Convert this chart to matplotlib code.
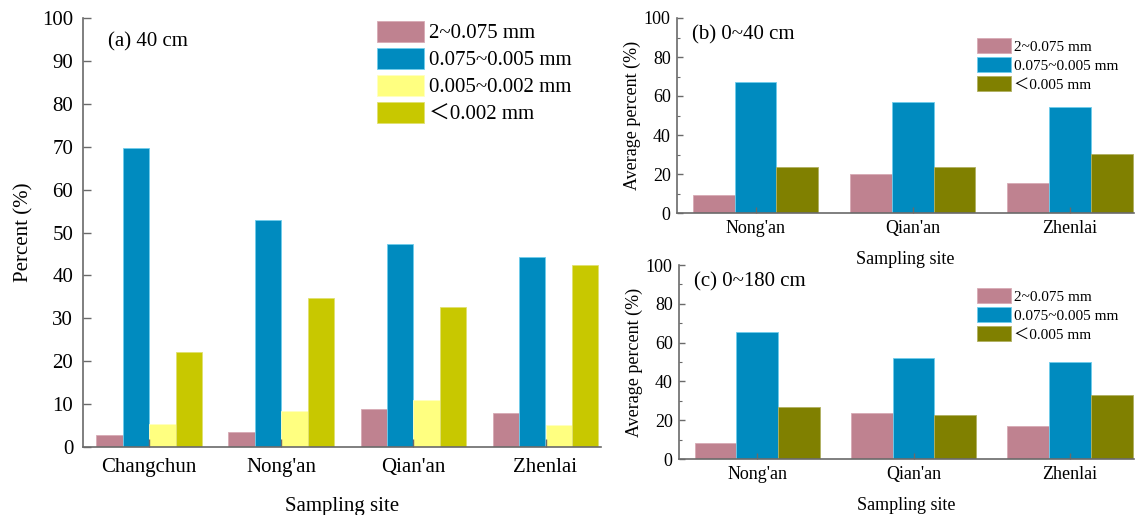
import matplotlib
matplotlib.use("Agg")
import matplotlib.pyplot as plt
import numpy as np
from matplotlib.ticker import MultipleLocator

plt.rcParams['font.family'] = ['Liberation Serif', 'Noto Sans CJK SC', 'DejaVu Sans']
plt.rcParams['mathtext.fontset'] = 'stix'

# ---- data ----
sites_a = ["Changchun", "Nong'an", "Qian'an", "Zhenlai"]
labels_a = ["2~0.075 mm", "0.075~0.005 mm", "0.005~0.002 mm", "＜0.002 mm"]
coarse_a = [2.8, 3.6, 8.8, 8.0]
silt_a = [69.7, 53.0, 47.4, 44.3]
fine_silt_a = [5.3, 8.5, 11.0, 5.2]
clay_a = [22.1, 34.8, 32.7, 42.4]

sites_bc = ["Nong'an", "Qian'an", "Zhenlai"]
labels_bc = ["2~0.075 mm", "0.075~0.005 mm", "＜0.005 mm"]
coarse_b = [9.3, 20.0, 15.4]
silt_b = [67.3, 57.0, 54.3]
clay_b = [23.5, 23.7, 30.3]
coarse_c = [8.0, 23.8, 16.8]
silt_c = [65.5, 52.0, 50.2]
clay_c = [26.7, 22.8, 32.8]

c_pink = "#bf8290"
c_blue = "#008bbf"
c_lyellow = "#ffff80"
c_olive_y = "#c8c800"
c_olive = "#808000"
edge_pink = "#d7aab4"
edge_blue = "#6fcdec"
edge_ly = "#ffffc0"
edge_oy = "#e0e070"
edge_ol = "#b0b060"
spine_c = "#6a6a6a"

W, H = 1145, 515
fig = plt.figure(figsize=(W / 100, H / 100), dpi=100)


def px_axes(x0, y0, x1, y1):
    ax = fig.add_axes([x0 / W, 1 - y1 / H, (x1 - x0) / W, (y1 - y0) / H])
    ax.set_facecolor("none")
    return ax


def style(ax, fs, major_len, ypad, minor=None):
    for s in ("top", "right"):
        ax.spines[s].set_visible(False)
    for s in ("left", "bottom"):
        ax.spines[s].set_color(spine_c)
        ax.spines[s].set_linewidth(1.2)
    ax.tick_params(axis="y", direction="in", length=major_len, width=1.0,
                   color=spine_c, labelsize=fs, pad=ypad)
    ax.tick_params(axis="x", direction="in", length=major_len, width=1.0,
                   color=spine_c, labelsize=fs, pad=ypad)
    if minor is not None:
        ax.yaxis.set_minor_locator(MultipleLocator(minor))
        ax.tick_params(axis="y", which="minor", direction="in", length=2.5,
                       width=0.8, color=spine_c)


# ---- panel (a) ----
ax = px_axes(83, 18, 601, 447)
x = np.arange(len(sites_a))
w = 0.2
series = [(coarse_a, c_pink, edge_pink), (silt_a, c_blue, edge_blue),
          (fine_silt_a, c_lyellow, edge_ly), (clay_a, c_olive_y, edge_oy)]
for i, ((vals, col, ec), lab) in enumerate(zip(series, labels_a)):
    ax.bar(x + (i - 1.5) * w, vals, w, color=col, edgecolor=ec,
           linewidth=0.6, label=lab)
ax.set_xlim(-0.5, 3.42)
ax.set_ylim(0, 100)
ax.set_yticks(np.arange(0, 101, 10))
ax.set_xticks(x)
ax.set_xticklabels(sites_a)
style(ax, 15, 6, 7)
ax.tick_params(axis="x", pad=8)
ax.set_ylabel("Percent (%)", fontsize=15, labelpad=6)
ax.set_xlabel("Sampling site", fontsize=15, labelpad=14)
ax.text(0.048, 0.944, "(a) 40 cm", transform=ax.transAxes, fontsize=15,
        va="center", ha="left")
leg_x = (377 - 83) / 518
leg_y = (447 - 21) / 429
ax.legend(loc="upper left", bbox_to_anchor=(leg_x, leg_y), frameon=False,
          fontsize=15, borderpad=0, borderaxespad=0, handlelength=2.25,
          handleheight=1.15, labelspacing=0.22, handletextpad=0.25)


# ---- panels (b) and (c) ----
def panel_bc(box, coarse, silt, clay, tag, leg_top):
    x0, y0, x1, y1 = box
    ax = px_axes(x0, y0, x1, y1)
    xs = np.arange(len(sites_bc))
    wb = 0.267
    ser = [(coarse, c_pink, edge_pink), (silt, c_blue, edge_blue),
           (clay, c_olive, edge_ol)]
    for i, ((vals, col, ec), lab) in enumerate(zip(ser, labels_bc)):
        ax.bar(xs + (i - 1) * wb, vals, wb, color=col, edgecolor=ec,
               linewidth=0.6, label=lab)
    ax.set_xlim(-0.5, 2.41)
    ax.set_ylim(0, 100)
    ax.set_yticks(np.arange(0, 101, 20))
    ax.set_xticks(xs)
    ax.set_xticklabels(sites_bc)
    style(ax, 13, 4, 4.5, minor=10)
    ax.tick_params(axis="x", pad=5)
    ax.set_ylabel("Average percent (%)", fontsize=13, labelpad=2)
    ax.set_xlabel("Sampling site", fontsize=13, labelpad=10)
    ax.text(0.033, 0.915, tag, transform=ax.transAxes, fontsize=15,
            va="center", ha="left")
    lx = (977 - x0) / (x1 - x0)
    ly = (y1 - leg_top) / (y1 - y0)
    ax.legend(loc="upper left", bbox_to_anchor=(lx, ly), frameon=False,
              fontsize=11, borderpad=0, borderaxespad=0, handlelength=2.2,
              handleheight=1.15, labelspacing=0.2, handletextpad=0.25)
    return ax


panel_bc((677, 18, 1134, 213), coarse_b, silt_b, clay_b, "(b) 0~40 cm", 38)
panel_bc((679, 265, 1134, 459), coarse_c, silt_c, clay_c, "(c) 0~180 cm", 288)

fig.savefig("out.png", dpi=100)
